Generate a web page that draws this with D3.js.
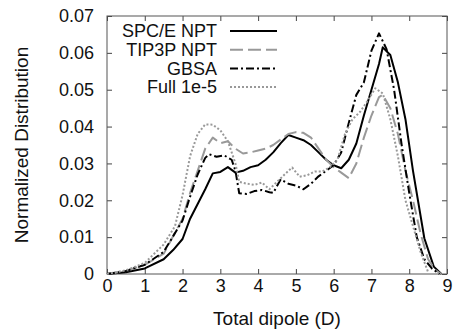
<!DOCTYPE html>
<html>
<head>
<meta charset="utf-8">
<script src="https://cdn.jsdelivr.net/npm/d3@7"></script>
<style>
  body { margin: 0; background: #fff; }
  text { font-family: "Liberation Sans", Arial, Helvetica, sans-serif; fill: #111; }
</style>
</head>
<body>
<div id="chart"></div>
<script>
// Series data
const spceX = [0, 0.5, 1.0, 1.5, 1.75, 2.0, 2.2, 2.4, 2.6, 2.8, 3.0, 3.2, 3.4, 3.6, 3.8, 4.0, 4.2, 4.4, 4.6, 4.8, 5.0, 5.2, 5.4, 5.6, 5.8, 6.0, 6.2, 6.4, 6.6, 6.8, 7.0, 7.2, 7.3, 7.5, 7.7, 7.9, 8.1, 8.4, 8.65, 8.85];
const spceY = [0, 0.0005, 0.0015, 0.004, 0.0065, 0.0095, 0.015, 0.019, 0.023, 0.0273, 0.0277, 0.029, 0.0275, 0.028, 0.029, 0.0295, 0.031, 0.033, 0.0355, 0.0377, 0.037, 0.0363, 0.035, 0.033, 0.031, 0.0295, 0.0287, 0.031, 0.0354, 0.043, 0.05, 0.057, 0.0615, 0.0594, 0.052, 0.042, 0.028, 0.0097, 0.002, 0];

const tip3pX = [0, 0.5, 1.0, 1.5, 2.0, 2.2, 2.4, 2.6, 2.8, 3.0, 3.2, 3.4, 3.6, 3.8, 4.0, 4.2, 4.4, 4.6, 4.8, 5.0, 5.2, 5.4, 5.6, 5.8, 6.0, 6.2, 6.4, 6.6, 6.8, 7.0, 7.2, 7.3, 7.5, 7.7, 7.9, 8.1, 8.3, 8.5, 8.7, 8.85];
const tip3pY = [0, 0.0008, 0.0025, 0.0055, 0.015, 0.022, 0.028, 0.034, 0.037, 0.0355, 0.036, 0.034, 0.0327, 0.033, 0.0335, 0.034, 0.035, 0.0365, 0.038, 0.0385, 0.0383, 0.037, 0.034, 0.031, 0.029, 0.0275, 0.026, 0.03, 0.037, 0.043, 0.048, 0.0486, 0.045, 0.038, 0.028, 0.02, 0.011, 0.004, 0.001, 0];

const gbsaX = [0, 0.5, 1.0, 1.5, 2.0, 2.2, 2.4, 2.6, 2.7, 2.9, 3.1, 3.3, 3.4, 3.5, 3.7, 3.9, 4.1, 4.3, 4.4, 4.6, 4.8, 5.0, 5.2, 5.4, 5.6, 5.8, 6.0, 6.2, 6.4, 6.6, 6.8, 7.0, 7.2, 7.4, 7.6, 7.8, 8.0, 8.2, 8.4, 8.6, 8.8];
const gbsaY = [0, 0.0008, 0.0025, 0.006, 0.0145, 0.021, 0.027, 0.0315, 0.0325, 0.0318, 0.0322, 0.031, 0.028, 0.0219, 0.0217, 0.0225, 0.0228, 0.0222, 0.022, 0.0257, 0.0245, 0.024, 0.023, 0.0245, 0.0265, 0.028, 0.0295, 0.033, 0.041, 0.0486, 0.052, 0.0606, 0.0653, 0.061, 0.05, 0.035, 0.022, 0.01, 0.004, 0.0015, 0];

const fullX = [0, 0.5, 1.0, 1.5, 1.8, 2.0, 2.2, 2.4, 2.6, 2.8, 3.0, 3.2, 3.4, 3.5, 3.7, 3.9, 4.1, 4.3, 4.5, 4.7, 4.9, 5.1, 5.3, 5.5, 5.7, 5.9, 6.1, 6.3, 6.5, 6.7, 6.9, 7.1, 7.3, 7.5, 7.7, 7.9, 8.1, 8.3, 8.5];
const fullY = [0, 0.001, 0.003, 0.008, 0.013, 0.0214, 0.032, 0.038, 0.0406, 0.0405, 0.039, 0.036, 0.03, 0.025, 0.0245, 0.0242, 0.0248, 0.023, 0.025, 0.027, 0.0289, 0.0264, 0.0268, 0.0278, 0.0278, 0.029, 0.031, 0.038, 0.042, 0.044, 0.047, 0.0504, 0.049, 0.042, 0.032, 0.02, 0.013, 0.006, 0.0005];

const seriesNames = ["SPC/E NPT", "TIP3P NPT", "GBSA", "Full 1e-5"];
const xTicks = [0, 1, 2, 3, 4, 5, 6, 7, 8, 9];
const yTicks = [0, 0.01, 0.02, 0.03, 0.04, 0.05, 0.06, 0.07];

const W = 453, H = 331;
const margin = {top: 16, right: 6, bottom: 57, left: 107};
const width = W - margin.left - margin.right;
const height = H - margin.top - margin.bottom;

const svg = d3.select("#chart").append("svg")
    .attr("width", W)
    .attr("height", H);

const g = svg.append("g")
    .attr("transform", `translate(${margin.left},${margin.top})`);

const x = d3.scaleLinear().domain([0, 9]).range([0, width]);
const y = d3.scaleLinear().domain([0, 0.07]).range([height, 0]);

// Axes with inward ticks, mirrored on top and right
const fmtY = d => d === 0 ? "0" : d3.format(".2f")(d);

g.append("g")
    .attr("transform", `translate(0,${height})`)
    .call(d3.axisBottom(x).tickValues(xTicks).tickSize(-5).tickPadding(5).tickFormat(d3.format("d")))
    .call(a => a.select(".domain").remove())
    .call(a => a.selectAll("line").attr("stroke", "#444"))
    .call(a => a.selectAll("text").style("font-size", "18px"));

g.append("g")
    .call(d3.axisTop(x).tickValues(xTicks).tickSize(-5).tickFormat(""))
    .call(a => a.select(".domain").remove())
    .call(a => a.selectAll("line").attr("stroke", "#444"));

g.append("g")
    .call(d3.axisLeft(y).tickValues(yTicks).tickSize(-5).tickPadding(13).tickFormat(fmtY))
    .call(a => a.select(".domain").remove())
    .call(a => a.selectAll("line").attr("stroke", "#444"))
    .call(a => a.selectAll("text").style("font-size", "18px"));

g.append("g")
    .attr("transform", `translate(${width},0)`)
    .call(d3.axisRight(y).tickValues(yTicks).tickSize(-5).tickFormat(""))
    .call(a => a.select(".domain").remove())
    .call(a => a.selectAll("line").attr("stroke", "#444"));

g.append("rect")
    .attr("width", width)
    .attr("height", height)
    .attr("fill", "none")
    .attr("stroke", "#555")
    .attr("stroke-width", 1);

// Lines
const styles = [
    {xs: spceX, ys: spceY, color: "#000", dash: null},
    {xs: tip3pX, ys: tip3pY, color: "#999", dash: "13,5"},
    {xs: gbsaX, ys: gbsaY, color: "#000", dash: "8,3,2,3"},
    {xs: fullX, ys: fullY, color: "#999", dash: "2,2"}
];

const line = d3.line()
    .x(d => x(d[0]))
    .y(d => y(d[1]));

styles.forEach(s => {
    g.append("path")
        .datum(s.xs.map((v, i) => [v, s.ys[i]]))
        .attr("fill", "none")
        .attr("stroke", s.color)
        .attr("stroke-width", 2)
        .attr("stroke-dasharray", s.dash)
        .attr("stroke-linejoin", "round")
        .attr("d", line);
});

// Legend
const legend = g.append("g").attr("transform", "translate(0,15)");
seriesNames.forEach((name, i) => {
    const ly = i * 18.7;
    legend.append("text")
        .attr("x", 110)
        .attr("y", ly)
        .attr("dy", "0.35em")
        .attr("text-anchor", "end")
        .style("font-size", "18px")
        .text(name);
    legend.append("line")
        .attr("x1", 123).attr("x2", 170)
        .attr("y1", ly).attr("y2", ly)
        .attr("stroke", styles[i].color)
        .attr("stroke-width", 2)
        .attr("stroke-dasharray", styles[i].dash);
});

// Axis titles
svg.append("text")
    .attr("x", margin.left + width / 2)
    .attr("y", H - 6)
    .attr("text-anchor", "middle")
    .style("font-size", "19px")
    .text("Total dipole (D)");

svg.append("text")
    .attr("transform", `translate(28,${margin.top + height / 2}) rotate(-90)`)
    .attr("text-anchor", "middle")
    .style("font-size", "19px")
    .text("Normalized Distribution");
</script>
</body>
</html>
